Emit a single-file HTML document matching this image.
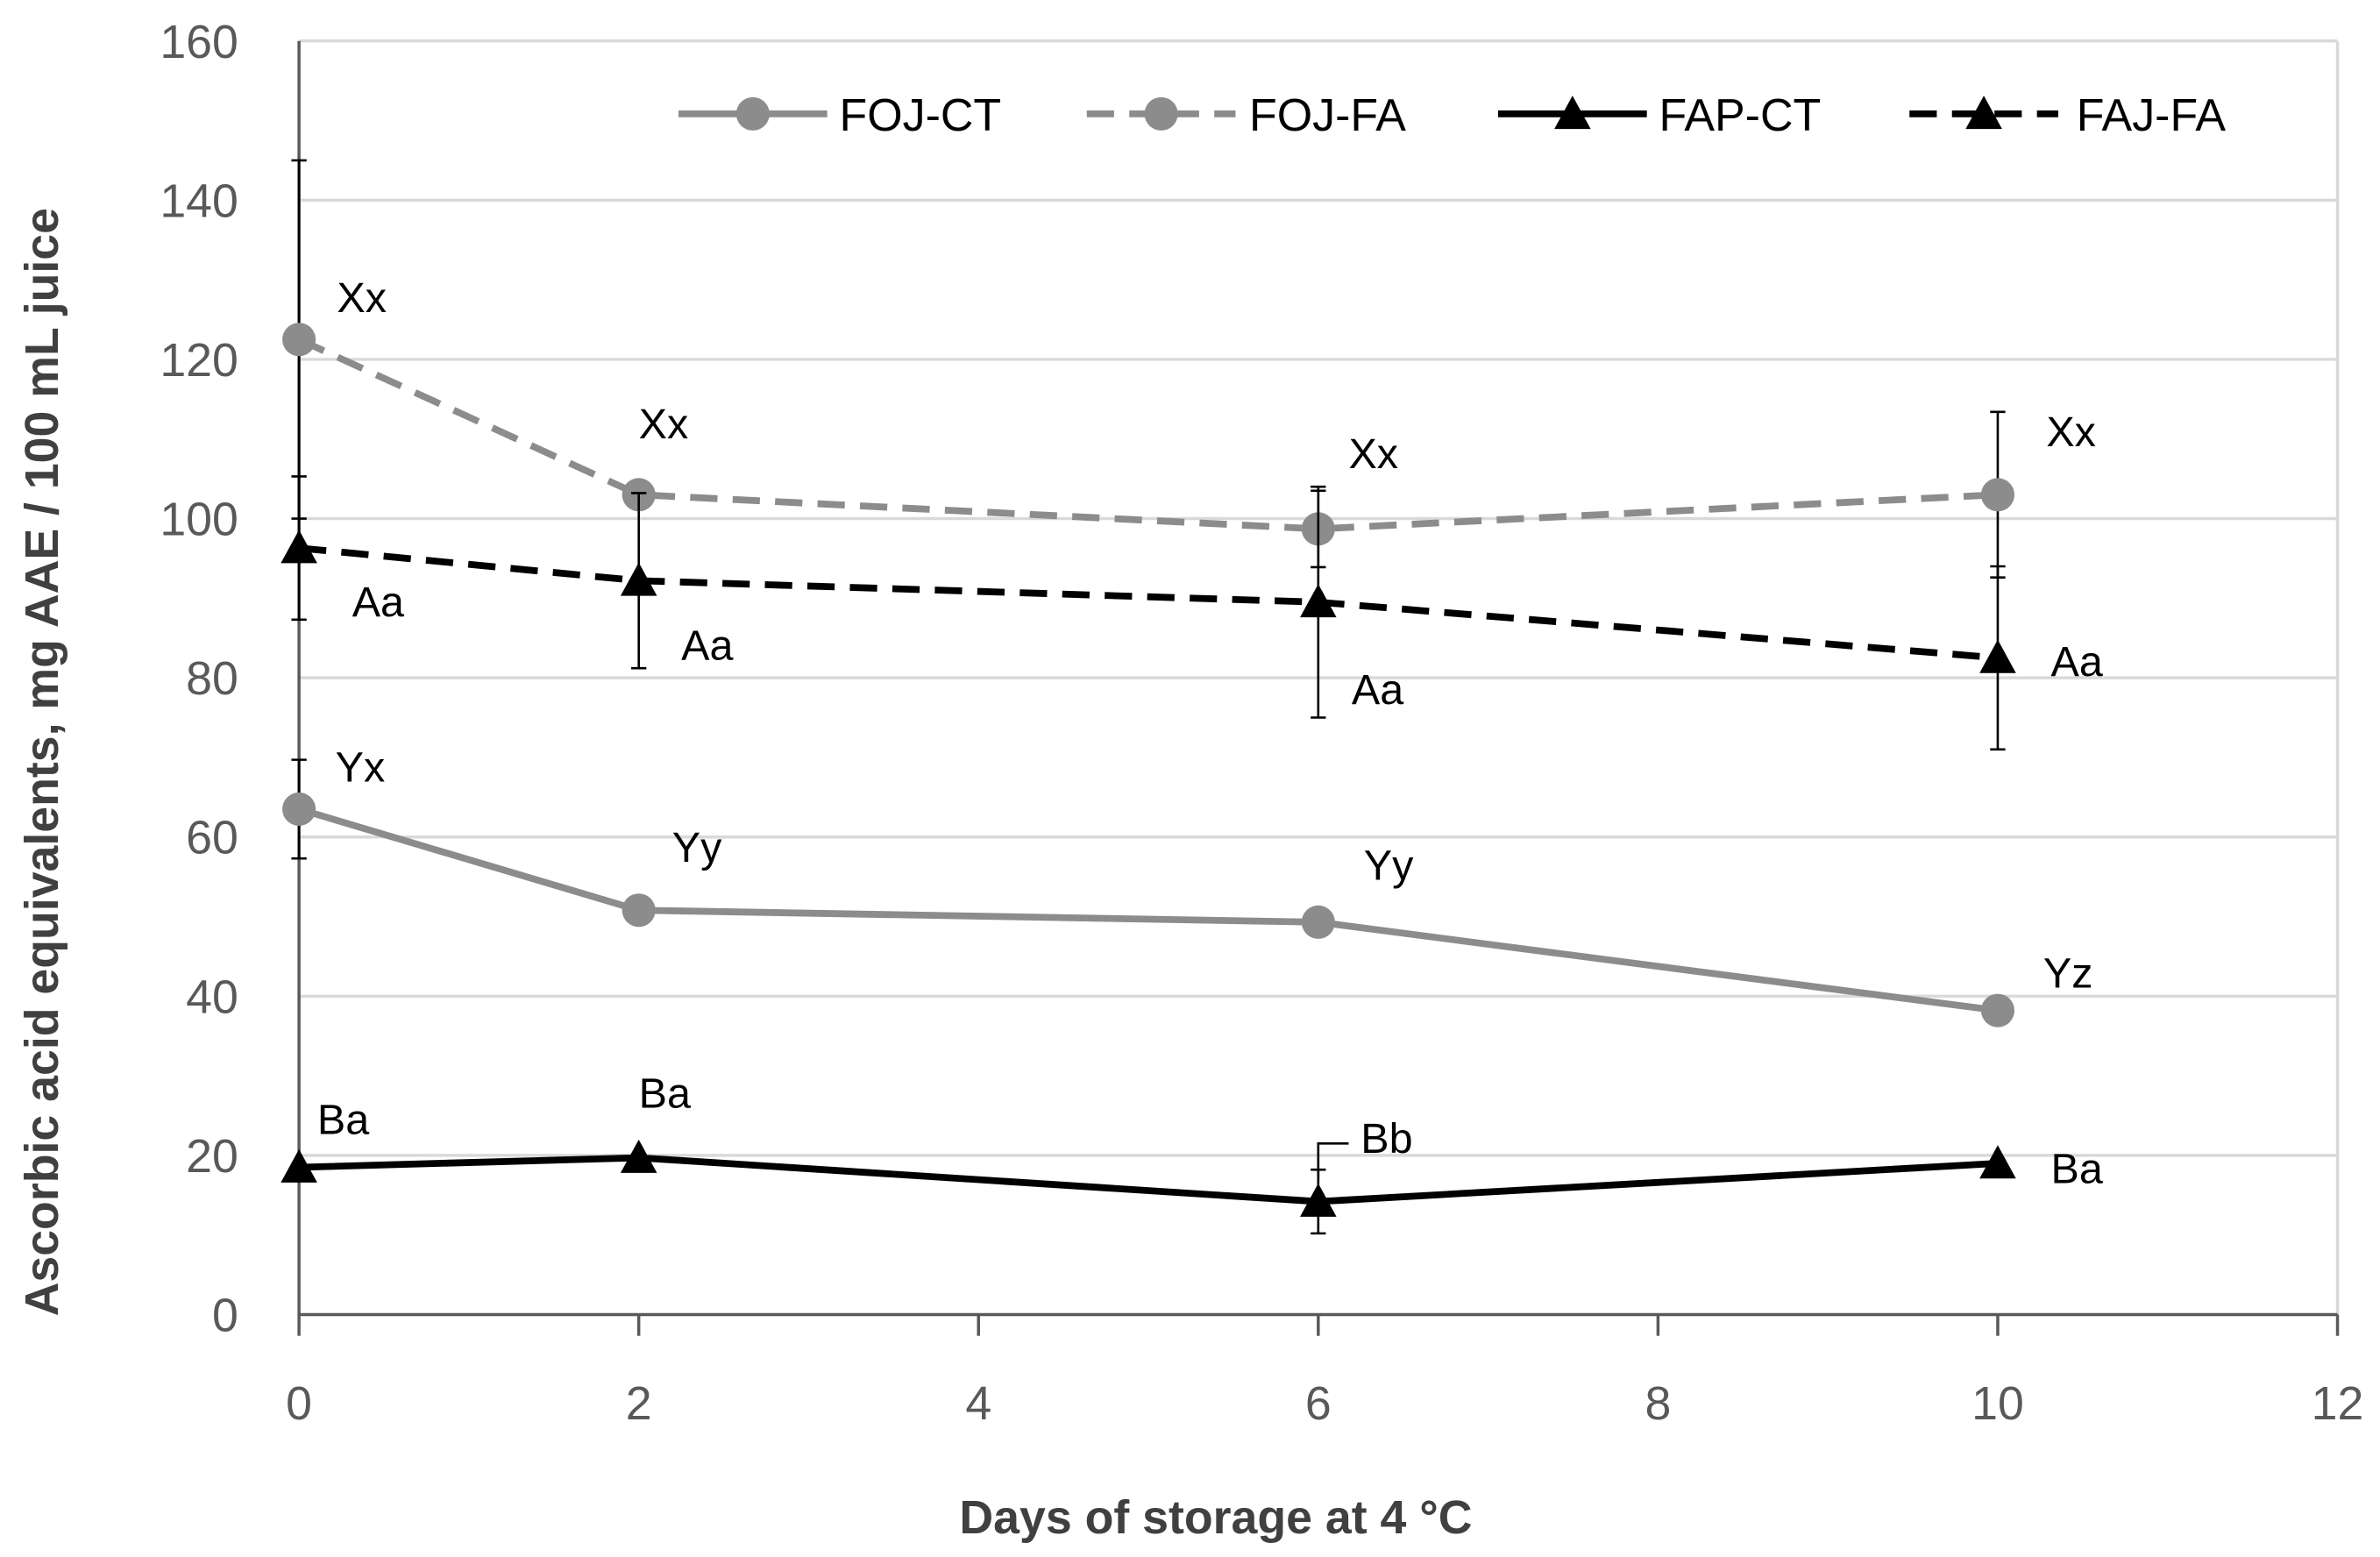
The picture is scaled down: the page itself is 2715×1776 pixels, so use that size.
<!DOCTYPE html>
<html><head><meta charset="utf-8"><style>
html,body{margin:0;padding:0;background:#fff}
svg{display:block}
text{font-family:"Liberation Sans","DejaVu Sans",sans-serif}
</style></head><body>
<svg id="chart" width="2715" height="1776" viewBox="0 0 1568 1025.7" preserveAspectRatio="none" xmlns="http://www.w3.org/2000/svg">
<g id="grid"></g><g id="axes"></g><g id="series"></g><g id="labels"></g><g id="legend"></g>
</svg>
<script>
const days = [0, 2, 6, 10];
const xTicks = [0, 2, 4, 6, 8, 10, 12];
const yTicks = [0, 20, 40, 60, 80, 100, 120, 140, 160];
const fojCT = [63.5, 50.8, 49.3, 38.2];
const fojCTErr = [6.2, 0, 0, 0];
const fojFA = [122.5, 103, 98.7, 103];
const fojFAErr = [22.5, 0, 4.8, 10.4];
const fajFA = [96.3, 92.2, 89.5, 82.5];
const fajFAErr = [9, 11, 14.5, 11.5];
const fapCT = [18.5, 19.7, 14.2, 19];
const fapCTErr = [0, 0, 4, 0];
const fojCTLabels = ["Yx", "Yy", "Yy", "Yz"];
const fojFALabels = ["Xx", "Xx", "Xx", "Xx"];
const fajFALabels = ["Aa", "Aa", "Aa", "Aa"];
const fapCTLabels = ["Ba", "Ba", "Bb", "Ba"];

const NS = "http://www.w3.org/2000/svg";
const X0 = 197, X1 = 1540, Y0 = 866, Y1 = 27;
const xs = v => X0 + (v - 0) / 12 * (X1 - X0);
const ys = v => Y0 - v / 160 * (Y0 - Y1);
function mk(tag, attrs, parent) {
  const e = document.createElementNS(NS, tag);
  for (const k in attrs) e.setAttribute(k, attrs[k]);
  parent.appendChild(e);
  return e;
}
const grid = document.getElementById('grid');
const axes = document.getElementById('axes');
const series = document.getElementById('series');
const labels = document.getElementById('labels');
const legend = document.getElementById('legend');

yTicks.forEach(t => {
  if (t > 0) {
    const l = mk('line', {x1: X0, x2: X1, y1: ys(t), y2: ys(t), stroke: '#d9d9d9', 'stroke-width': 2}, grid);
    
    
  }
  const tx = mk('text', {x: 157, y: ys(t) + 11, 'text-anchor': 'end', 'font-size': 31, fill: '#595959'}, axes);
  tx.textContent = t;
  
  
});
const rb = mk('line', {x1: X1, x2: X1, y1: Y1, y2: Y0, stroke: '#d9d9d9', 'stroke-width': 2}, grid);


const ya = mk('line', {x1: X0, x2: X0, y1: Y1, y2: Y0, stroke: '#595959', 'stroke-width': 2}, axes);


const xa = mk('line', {x1: X0, x2: X1, y1: Y0, y2: Y0, stroke: '#595959', 'stroke-width': 2}, axes);


xTicks.forEach(t => {
  const tk = mk('line', {x1: xs(t), x2: xs(t), y1: Y0, y2: Y0 + 14, stroke: '#595959', 'stroke-width': 2}, axes);
  
  
  const tx = mk('text', {x: xs(t), y: 935, 'text-anchor': 'middle', 'font-size': 31, fill: '#595959'}, axes);
  tx.textContent = t;
  
  
});
const xt = mk('text', {x: 801, y: 1010, 'text-anchor': 'middle', 'font-size': 31, 'font-weight': 'bold', fill: '#404040'}, axes);
xt.textContent = 'Days of storage at 4 °C';


const yt = mk('text', {x: 0, y: 0, transform: 'translate(38,502) rotate(-90)', 'text-anchor': 'middle', 'font-size': 31, 'font-weight': 'bold', fill: '#404040'}, axes);
yt.textContent = 'Ascorbic acid equivalents, mg AAE / 100 mL juice';



function tri(cx, cy, parent) {
  return mk('polygon', {points: `${cx},${cy-12} ${cx-12},${cy+10} ${cx+12},${cy+10}`, fill: '#000'}, parent);
}
function drawSeries(name, vals, errs, color, dash, marker) {
  const g = mk('g', {}, series);
  
  
  errs.forEach((e, i) => {
    if (!e) return;
    const x = xs(days[i]);
    const eb = mk('path', {d: `M${x},${ys(vals[i]-e)}V${ys(vals[i]+e)}M${x-5},${ys(vals[i]-e)}H${x+5}M${x-5},${ys(vals[i]+e)}H${x+5}`, stroke: '#000', 'stroke-width': 1.5, fill: 'none'}, g);
    
    
  });
  const pts = vals.map((v, i) => xs(days[i]) + ',' + ys(v)).join(' ');
  const pl = mk('polyline', {points: pts, fill: 'none', stroke: color, 'stroke-width': 4.5}, g);
  if (dash) pl.setAttribute('stroke-dasharray', '18,10');
  
  
  vals.forEach((v, i) => {
    const m = marker === 'circle' ? mk('circle', {cx: xs(days[i]), cy: ys(v), r: 11, fill: color}, g) : tri(xs(days[i]), ys(v), g);
    
    
  });
}
drawSeries('foj-ct', fojCT, fojCTErr, '#8c8c8c', false, 'circle');
drawSeries('foj-fa', fojFA, fojFAErr, '#8c8c8c', true, 'circle');
drawSeries('faj-fa', fajFA, fajFAErr, '#000', true, 'tri');
drawSeries('fap-ct', fapCT, fapCTErr, '#000', false, 'tri');

function drawLabels(name, vals, labs, dx, dy) {
  labs.forEach((s, i) => {
    const t = mk('text', {x: xs(days[i]) + dx[i], y: ys(vals[i]) + dy[i], 'font-size': 28, fill: '#000'}, labels);
    t.textContent = s;
    
    
  });
}
drawLabels('foj-ct', fojCT, fojCTLabels, [24, 22, 30, 30], [-18, -32, -28, -15]);
drawLabels('foj-fa', fojFA, fojFALabels, [25, 0, 20, 32], [-18, -37, -40, -32]);
drawLabels('faj-fa', fajFA, fajFALabels, [35, 28, 22, 35], [45, 52, 67, 12]);
drawLabels('fap-ct', fapCT, fapCTLabels, [12, 0, 28, 35], [-22, -33, -32, 13]);
const bbl = mk('path', {d: `M${xs(6)},${ys(17)}V${ys(21.5)}H${xs(6)+20}`, stroke: '#000', 'stroke-width': 1.5, fill: 'none'}, labels);



const legendItems = [
  {name: 'FOJ-CT', x: 447, tx: 553, color: '#8c8c8c', dash: false, m: 'circle'},
  {name: 'FOJ-FA', x: 716, tx: 823, color: '#8c8c8c', dash: true, m: 'circle'},
  {name: 'FAP-CT', x: 987, tx: 1093, color: '#000', dash: false, m: 'tri'},
  {name: 'FAJ-FA', x: 1258, tx: 1368, color: '#000', dash: true, m: 'tri'}
];
legendItems.forEach(it => {
  const g = mk('g', {}, legend);
  
  
  const l = mk('line', {x1: it.x, x2: it.x + 98, y1: 75, y2: 75, stroke: it.color, 'stroke-width': 4.5}, g);
  if (it.dash) l.setAttribute('stroke-dasharray', '18,10');
  if (it.m === 'circle') mk('circle', {cx: it.x + 49, cy: 75, r: 11, fill: it.color}, g);
  else tri(it.x + 49, 75, g);
  const t = mk('text', {x: it.tx, y: 86, 'font-size': 30, fill: '#000'}, g);
  t.textContent = it.name;
});
</script>
</body></html>
